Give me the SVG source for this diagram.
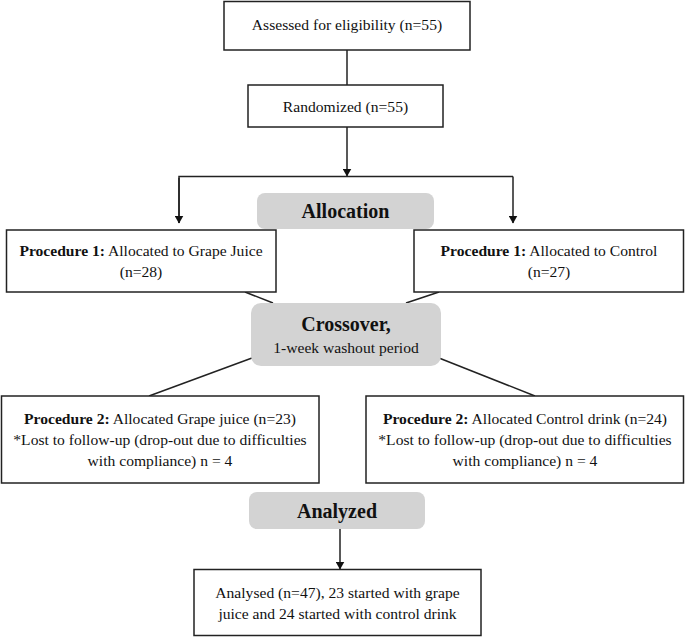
<svg xmlns="http://www.w3.org/2000/svg" width="685" height="637" viewBox="0 0 685 637">
<style>
.box{fill:#fff;stroke:#222;stroke-width:1.5}
.pill{fill:#d3d3d3;stroke:none}
.ln{stroke:#222;stroke-width:1.5;fill:none}
text{font-family:'Liberation Serif','DejaVu Serif',serif;font-size:15.6px;fill:#111;text-anchor:middle}
.h{font-size:20px;font-weight:bold}
.b{font-weight:bold}
</style>
<defs>
<marker id="arr" markerWidth="8" markerHeight="9" refX="7.5" refY="4.5" orient="auto" markerUnits="userSpaceOnUse">
<path d="M0,0 L8,4.5 L0,9 Z" fill="#111"/>
</marker>
</defs>
<g id="connectors">
<line class="ln" x1="347" y1="50" x2="347" y2="85"/>
<line class="ln" x1="347" y1="127" x2="347" y2="176" marker-end="url(#arr)"/>
<polyline class="ln" points="179,223 179,176.5 513,176.5"/>
<line class="ln" x1="179" y1="178" x2="179" y2="223" marker-end="url(#arr)"/>
<line class="ln" x1="513" y1="176.5" x2="513" y2="223" marker-end="url(#arr)"/>
<line class="ln" x1="245" y1="292" x2="273" y2="303"/>
<line class="ln" x1="439" y1="292" x2="406" y2="303"/>
<line class="ln" x1="252" y1="358" x2="149" y2="396"/>
<line class="ln" x1="439" y1="358" x2="535" y2="396"/>
<line class="ln" x1="340" y1="529" x2="340" y2="569" marker-end="url(#arr)"/>
</g>
<g id="assessed">
<rect class="box" x="224" y="1.5" width="246" height="48.5"/>
<text x="347" y="29.5">Assessed for eligibility (n=55)</text>
</g>
<g id="randomized">
<rect class="box" x="248" y="85" width="195" height="42"/>
<text x="345.5" y="112">Randomized (n=55)</text>
</g>
<g id="allocation">
<rect class="pill" x="257" y="193" width="177" height="36" rx="8"/>
<text class="h" x="345.5" y="218">Allocation</text>
</g>
<g id="proc1-grape">
<rect class="box" x="6.5" y="230" width="269.5" height="62"/>
<text x="141" y="256"><tspan class="b">Procedure 1:</tspan> Allocated to Grape Juice</text>
<text x="141" y="277">(n=28)</text>
</g>
<g id="proc1-control">
<rect class="box" x="414" y="230" width="269.5" height="62"/>
<text x="549" y="256"><tspan class="b">Procedure 1:</tspan> Allocated to Control</text>
<text x="549" y="277">(n=27)</text>
</g>
<g id="crossover">
<rect class="pill" x="251" y="303" width="190" height="63" rx="10"/>
<text class="h" x="346" y="331">Crossover,</text>
<text x="346" y="353">1-week washout period</text>
</g>
<g id="proc2-grape">
<rect class="box" x="1.5" y="396" width="317.5" height="87"/>
<text x="160" y="424"><tspan class="b">Procedure 2:</tspan> Allocated Grape juice (n=23)</text>
<text x="160" y="445">*Lost to follow-up (drop-out due to difficulties</text>
<text x="160" y="466">with compliance) n = 4</text>
</g>
<g id="proc2-control">
<rect class="box" x="366" y="396" width="317.5" height="87"/>
<text x="525" y="424"><tspan class="b">Procedure 2:</tspan> Allocated Control drink (n=24)</text>
<text x="525" y="445">*Lost to follow-up (drop-out due to difficulties</text>
<text x="525" y="466">with compliance) n = 4</text>
</g>
<g id="analyzed">
<rect class="pill" x="249" y="492" width="176" height="37" rx="8"/>
<text class="h" x="337" y="518">Analyzed</text>
</g>
<g id="analysed-final">
<rect class="box" x="194" y="569.5" width="287" height="66"/>
<text x="337.5" y="598">Analysed (n=47), 23 started with grape</text>
<text x="337.5" y="619">juice and 24 started with control drink</text>
</g>
</svg>
